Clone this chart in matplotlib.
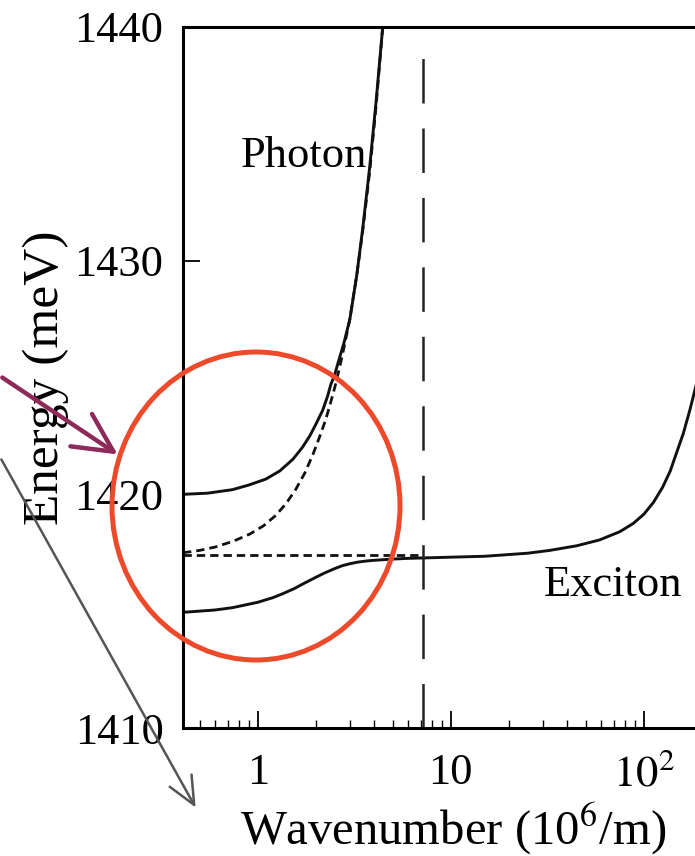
import matplotlib.pyplot as plt
from matplotlib.patches import Ellipse, FancyArrowPatch
from matplotlib.ticker import FixedLocator, FixedFormatter, LogLocator, NullFormatter

plt.rcParams['font.family'] = ['Liberation Serif', 'DejaVu Serif']
plt.rcParams['mathtext.fontset'] = 'stix'
plt.rcParams['lines.scale_dashes'] = False

# upper polariton (solid)
k_up = [0.41, 0.55, 0.74, 0.9, 1.1, 1.3, 1.52, 1.7, 1.86, 2.0, 2.17, 2.3, 2.39,
        2.5, 2.6, 2.8, 3.0, 3.26, 3.5, 3.8, 4.1, 4.44]
e_up = [1420.0, 1420.05, 1420.2, 1420.4, 1420.65, 1421.0, 1421.5, 1422.0, 1422.5,
        1423.0, 1423.6, 1424.2, 1424.7, 1425.1, 1425.6, 1426.5, 1427.5, 1429.4,
        1431.4, 1434.0, 1436.8, 1440.0]

# bare photon (dashed)
k_ph = [0.41, 0.5, 0.605, 0.75, 0.91, 1.07, 1.24, 1.4, 1.57, 1.75, 1.93, 2.1,
        2.25, 2.38, 2.51, 2.65, 2.8, 3.0, 3.26, 3.5, 3.8, 4.1, 4.44]
e_ph = [1417.5, 1417.6, 1417.75, 1418.0, 1418.3, 1418.65, 1419.1, 1419.6, 1420.2,
        1420.9, 1421.7, 1422.5, 1423.2, 1423.9, 1424.6, 1425.4, 1426.3, 1427.5,
        1429.4, 1431.3, 1433.8, 1436.6, 1440.0]

# bare exciton (dashed)
k_ex = [0.41, 7.2]
e_ex = [1417.4, 1417.4]

# lower polariton (solid)
k_lo = [0.41, 0.6, 0.74, 1.0, 1.2, 1.35, 1.55, 1.7, 2.0, 2.2, 2.5, 2.75, 3.0, 3.3,
        3.6, 3.9, 4.44, 5.0, 6.0, 9.0, 15, 25, 32.5, 45, 59, 75, 88, 100, 112,
        125, 137, 148, 160, 173, 183, 200, 230]
e_lo = [1414.95, 1415.05, 1415.15, 1415.38, 1415.58, 1415.75, 1415.97, 1416.15,
        1416.45, 1416.62, 1416.82, 1416.95, 1417.03, 1417.1, 1417.14, 1417.17,
        1417.2, 1417.23, 1417.26, 1417.3, 1417.35, 1417.48, 1417.6, 1417.8,
        1418.05, 1418.4, 1418.75, 1419.15, 1419.65, 1420.3, 1421.0, 1421.8,
        1422.6, 1423.6, 1424.4, 1425.7, 1428.0]

k_cut = 7.2

fig = plt.figure(figsize=(6.95, 8.56), dpi=100)
W, H = 695, 856
ax = fig.add_axes([183 / W, 1 - 728 / H, 540 / W, 701 / H])

ax.plot(k_up, e_up, color='#111111', lw=2.1)
ax.plot(k_lo, e_lo, color='#111111', lw=2.1)
ax.plot(k_ph, e_ph, color='#111111', lw=2.0, linestyle=(0, (6, 3.6)))
ax.plot(k_ex, e_ex, color='#111111', lw=2.0, linestyle=(0, (6, 3.6)))
ax.plot([k_cut, k_cut], [1410, 1439.0], color='#222222', lw=1.8,
        linestyle=(0, (32, 18)))

ax.set_xscale('log')
ax.set_xlim(0.41, 257)
ax.set_ylim(1410, 1440)

ax.xaxis.set_major_locator(FixedLocator([1, 10, 100]))
ax.xaxis.set_major_formatter(FixedFormatter(['1', '10', '$10^2$']))
ax.xaxis.set_minor_locator(LogLocator(base=10, subs=range(2, 10)))
ax.xaxis.set_minor_formatter(NullFormatter())
ax.set_yticks([1410, 1420, 1430, 1440])

ax.tick_params(axis='both', which='major', direction='in', length=12, width=1.3,
               labelsize=32, pad=14)
ax.tick_params(axis='x', which='minor', direction='in', length=6, width=1.0)
ax.tick_params(axis='x', which='major', pad=18)

for s in ax.spines.values():
    s.set_linewidth(2.2)

ax.set_xlabel('Wavenumber (10$^6$/m)', fontsize=35)
ax.set_ylabel('Energy (meV)', fontsize=37)
ax.xaxis.set_label_coords(0.5, -0.143)
ax.xaxis.label.set_va('center')
ax.yaxis.set_label_coords(-0.212, 0.5)

ax.text(1.73, 1434.5, 'Photon', fontsize=32, ha='center', va='center')
ax.text(69, 1416.1, 'Exciton', fontsize=32, ha='center', va='center')

# hand-drawn overlay marks
fig.add_artist(Ellipse((256 / W, 1 - 506 / H), 288 / W, 308 / H,
                       transform=fig.transFigure, fill=False,
                       edgecolor='#ec4a2b', lw=3.6))
fig.add_artist(FancyArrowPatch((0, 1 - 376 / H), (120 / W, 1 - 456 / H),
                               transform=fig.transFigure, arrowstyle='->,head_length=1.4,head_width=0.7',
                               color='#8e2a5a', lw=3.2, mutation_scale=20))
fig.add_artist(FancyArrowPatch((0, 1 - 457 / H), (197 / W, 1 - 810 / H),
                               transform=fig.transFigure, arrowstyle='->,head_length=1.0,head_width=0.45',
                               color='#555555', lw=1.8, mutation_scale=20))

fig.savefig('out.png', dpi=100)
